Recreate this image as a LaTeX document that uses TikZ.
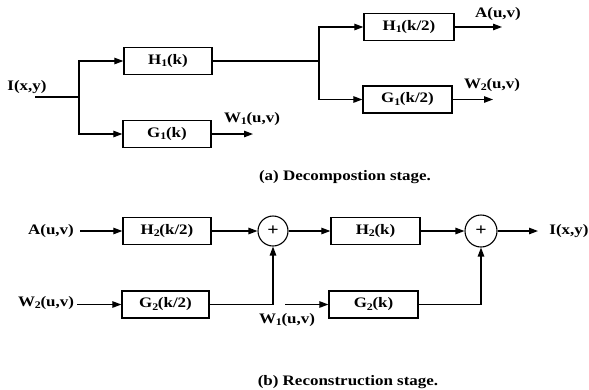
\documentclass[tikz,border=0pt]{standalone}
\usepackage{fontspec}
\setmainfont[FakeStretch=1.17]{Liberation Serif}
\usetikzlibrary{arrows.meta}
\begin{document}
\begin{tikzpicture}[x=1pt,y=-1pt,
  every node/.style={font=\fontsize{14.5}{16}\selectfont\bfseries, inner sep=0pt},
  blk/.style={draw, line width=1.3pt, minimum width=88pt, minimum height=27pt},
  sumnode/.style={draw, circle, line width=1.1pt, minimum size=30pt, font=\fontsize{17}{18}\selectfont\bfseries},
  conn/.style={line width=1.2pt},
  arr/.style={conn, -{Triangle[length=9pt,width=6.5pt]}},
  lbl/.style={}]
\useasboundingbox (0,0) rectangle (589,389);
% ---------- (a) decomposition ----------
\node[blk] (H1k) at (168,61) {H$_{\mathbf 1}$(k)};
\node[blk] (G1k) at (167,134) {G$_{\mathbf 1}$(k)};
\node[blk, minimum width=90pt] (H1k2) at (409,27) {H$_{\mathbf 1}$(k/2)};
\node[blk, minimum width=89pt] (G1k2) at (407.5,99.5) {G$_{\mathbf 1}$(k/2)};
\node[lbl] (Ixy) at (27,87) {I(x,y)};
\coordinate (in) at (35,97);
\coordinate (b1) at (79,97);
\coordinate (w1end) at (253,134);
\node[lbl] (W1a) at (252,119) {W$_{\mathbf 1}$(u,v)};
\coordinate (b2) at (319,61);
\coordinate (aend) at (502,27);
\node[lbl] (Aa) at (498,14) {A(u,v)};
\coordinate (w2end) at (493,99.5);
\node[lbl] (W2a) at (492,85) {W$_{\mathbf 2}$(u,v)};
\node[lbl] (capa) at (345,177) {(a) Decompostion stage.};
\draw[conn] (in) -- (b1);
\draw[arr] (b1) |- (H1k.west);
\draw[arr] (b1) |- (G1k.west);
\draw[arr] (G1k.east) -- (w1end);
\draw[conn] (H1k.east) -- (b2);
\draw[arr] (b2) |- (H1k2.west);
\draw[arr] (b2) |- (G1k2.west);
\draw[arr] (H1k2.east) -- (aend);
\draw[arr] (G1k2.east) -- (w2end);
% ---------- (b) reconstruction ----------
\node[lbl] (Ab) at (51,231) {A(u,v)};
\coordinate (ain) at (80,231);
\node[blk] (H2k2) at (167,231) {H$_{\mathbf 2}$(k/2)};
\node[sumnode] (s1) at (273,231) {+};
\node[lbl] (W2b) at (46,303) {W$_{\mathbf 2}$(u,v)};
\coordinate (w2in) at (77,304.5);
\node[blk, minimum width=87pt] (G2k2) at (165.5,304.5) {G$_{\mathbf 2}$(k/2)};
\node[blk, minimum width=89pt] (H2k) at (375.5,231) {H$_{\mathbf 2}$(k)};
\node[sumnode, minimum size=32pt] (s2) at (481,231) {+};
\coordinate (iout) at (538,231);
\node[lbl] (Ib) at (569,231) {I(x,y)};
\node[blk, minimum width=89pt] (G2k) at (373.5,304.5) {G$_{\mathbf 2}$(k)};
\coordinate (w1in) at (285,304.5);
\node[lbl] (W1b) at (287,320) {W$_{\mathbf 1}$(u,v)};
\node[lbl] (capb) at (348,382) {(b) Reconstruction stage.};
\draw[arr] (ain) -- (H2k2.west);
\draw[arr] (H2k2.east) -- (s1.west);
\draw[arr] (w2in) -- (G2k2.west);
\draw[arr] (G2k2.east) -| (s1.south);
\draw[arr] (s1.east) -- (H2k.west);
\draw[arr] (H2k.east) -- (s2.west);
\draw[arr] (s2.east) -- (iout);
\draw[arr] (w1in) -- (G2k.west);
\draw[arr] (G2k.east) -| (s2.south);
\end{tikzpicture}
\end{document}
